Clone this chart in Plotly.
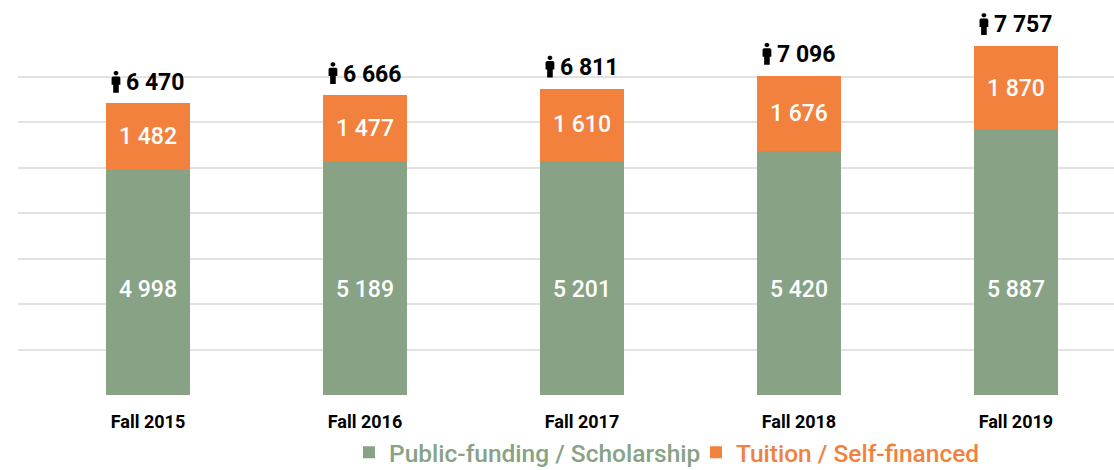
import plotly.graph_objects as go

terms = ["Fall 2015", "Fall 2016", "Fall 2017", "Fall 2018", "Fall 2019"]
public_funding = [4998, 5189, 5201, 5420, 5887]
tuition = [1482, 1477, 1610, 1676, 1870]
totals = [6470, 6666, 6811, 7096, 7757]
grid_ticks = [0, 1011, 2022, 3033, 4044, 5055, 6066, 7077]
green_label_level = 2355

GREEN = "#87A285"
ORANGE = "#F2813D"
FONT = "Roboto"


def spaced(v):
    return f"{v:,}".replace(",", " ")


fig = go.Figure()
fig.add_bar(
    x=terms, y=public_funding, marker_color=GREEN, marker_line_width=0, width=0.387,
    name=f'<span style="color:{GREEN}">Public-funding / Scholarship</span>',
    textposition="none", hoverinfo="skip",
)
fig.add_bar(
    x=terms, y=tuition, marker_color=ORANGE, marker_line_width=0, width=0.387,
    name=f'<span style="color:{ORANGE}">Tuition / Self-financed</span>',
    text=[spaced(v) for v in tuition], textposition="inside",
    insidetextanchor="middle", textangle=0,
    insidetextfont=dict(family=FONT, size=23, color="white", weight=500),
    hoverinfo="skip",
)

# person icon, in pixels around the top of each bar
IX, IY = -32, 22
def px(x, y):
    return f"{x + IX} {y + IY}"
HEAD = [(-1, 10.8), (1, 10.8), (2.3, 9.6), (2.3, 7.9), (1, 6.6), (-1, 6.6), (-2.3, 7.9), (-2.3, 9.6)]
BODY = [(-3.2, 5.4), (3.2, 5.4), (4.4, 4.2), (4.4, -3), (2.8, -3), (2.8, -11), (-2.8, -11),
        (-2.8, -3), (-4.4, -3), (-4.4, 4.2)]
def poly(points):
    return "M " + " L ".join(px(x, y) for x, y in points) + " Z"
PERSON = poly(HEAD) + " " + poly(BODY)

annotations = []
shapes = []
for term, total, pub in zip(terms, totals, public_funding):
    annotations.append(dict(
        x=term, y=total, text=f"<b>{spaced(total)}</b>", showarrow=False,
        xanchor="center", yanchor="middle", xshift=8, yshift=21,
        font=dict(family=FONT, size=23, color="black"),
    ))
    annotations.append(dict(
        x=term, y=green_label_level, text=spaced(pub), showarrow=False,
        xanchor="center", yanchor="middle",
        font=dict(family=FONT, size=23, color="white", weight=500),
    ))
    shapes.append(dict(
        type="path", xref="x", yref="y", xsizemode="pixel", ysizemode="pixel",
        xanchor=term, yanchor=total, path=PERSON,
        fillcolor="black", line_width=0, layer="above",
    ))

fig.update_layout(
    width=1114, height=484, barmode="stack", bargap=0.6,
    margin=dict(l=18, r=0, t=0, b=89, autoexpand=False),
    paper_bgcolor="white", plot_bgcolor="white",
    font=dict(family=FONT),
    annotations=annotations, shapes=shapes,
    xaxis=dict(
        type="category", range=[-0.599, 4.452], showgrid=False, zeroline=False,
        showline=False, ticks="", ticklabelstandoff=14, automargin=False,
        tickfont=dict(family=FONT, size=18, color="black", weight=700),
    ),
    yaxis=dict(
        range=[0, 8778], tickmode="array", tickvals=grid_ticks, showticklabels=False,
        gridcolor="#E2E2E2", gridwidth=2, zeroline=False, showline=False, ticks="",
        automargin=False,
    ),
    legend=dict(
        orientation="h", x=0.302, xanchor="left", y=-0.145, yanchor="middle",
        entrywidth=302, entrywidthmode="pixels",
        font=dict(family=FONT, size=24.5, weight=500), traceorder="normal",
    ),
    showlegend=True,
)
fig.write_html(
    "out.html", config=dict(displayModeBar=False),
    post_script="document.body.style.margin='0';document.documentElement.style.overflow='hidden';",
)
